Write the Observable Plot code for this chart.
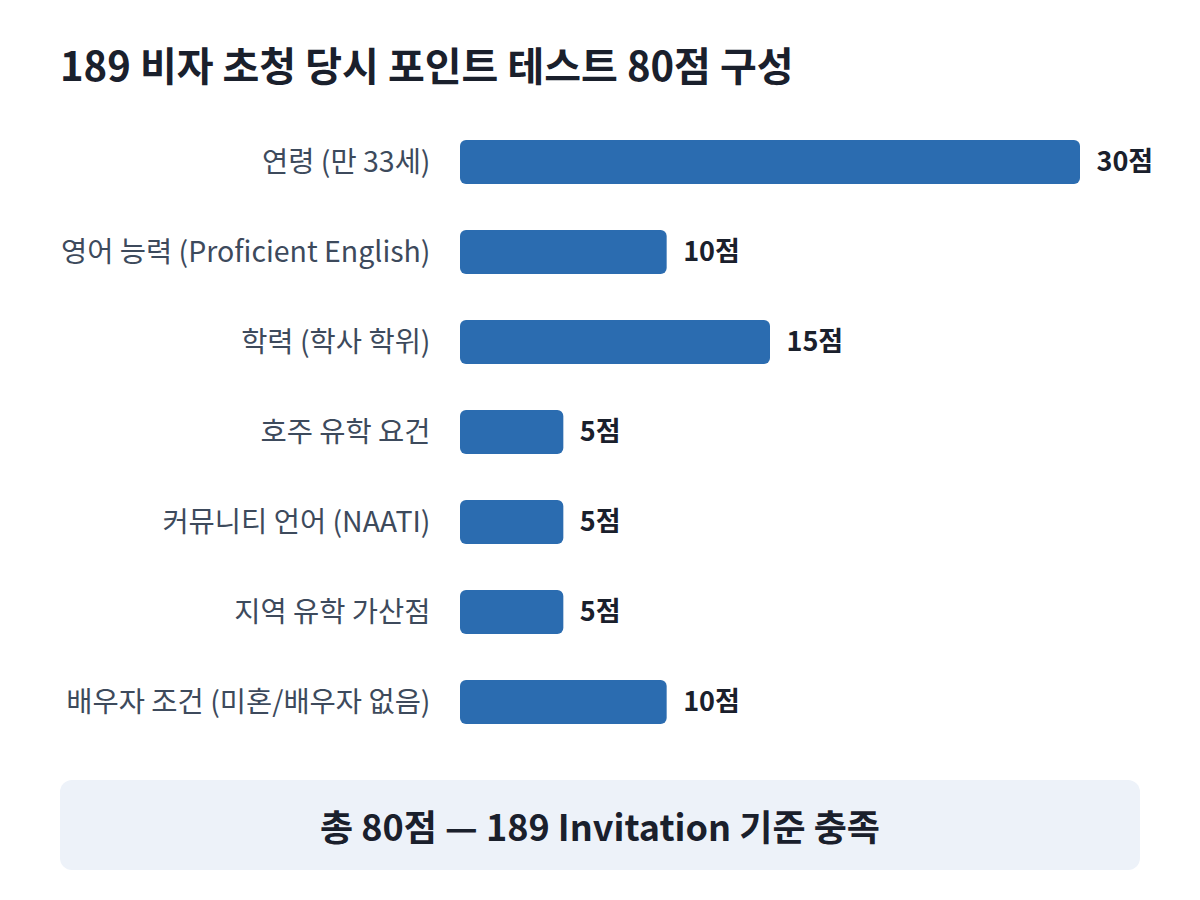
<!DOCTYPE html>
<html>
<head>
<meta charset="utf-8">
<script src="https://cdn.jsdelivr.net/npm/d3@7"></script>
<script src="https://cdn.jsdelivr.net/npm/@observablehq/plot@0.6"></script>
<style>
  html, body { margin: 0; padding: 0; background: #ffffff; }
  body { width: 1200px; height: 900px; position: relative; font-family: "Noto Sans CJK KR", "Noto Sans", sans-serif; }
  #title { position: absolute; left: 60px; top: 44px; font-size: 40px; font-weight: 700; color: #1a202c; line-height: 40px; white-space: nowrap; }
  #chart { position: absolute; left: 0; top: 117px; }
  #footer { position: absolute; left: 60px; top: 780px; width: 1080px; height: 90px; background: #edf2f9; border-radius: 12px; display: flex; align-items: center; justify-content: center; font-size: 36px; font-weight: 700; color: #1a202c; }
</style>
</head>
<body>
<div id="title">189 비자 초청 당시 포인트 테스트 80점 구성</div>
<div id="chart"></div>
<div id="footer">총 80점 — 189 Invitation 기준 충족</div>
<script>
const categories = [
  "연령 (만 33세)",
  "영어 능력 (Proficient English)",
  "학력 (학사 학위)",
  "호주 유학 요건",
  "커뮤니티 언어 (NAATI)",
  "지역 유학 가산점",
  "배우자 조건 (미혼/배우자 없음)"
];
const points = [30, 10, 15, 5, 5, 5, 10];
const valueLabels = ["30점", "10점", "15점", "5점", "5점", "5점", "10점"];

const data = categories.map((c, i) => ({category: c, value: points[i], label: valueLabels[i]}));

const chart = Plot.plot({
  width: 1200,
  height: 630,
  marginTop: 0,
  marginBottom: 0,
  marginLeft: 460,
  marginRight: 120,
  style: {fontFamily: "'Noto Sans CJK KR', 'Noto Sans', sans-serif", background: "transparent"},
  x: {domain: [0, 30], axis: null},
  y: {domain: categories, padding: 0},
  marks: [
    Plot.barX(data, {x: "value", y: "category", fill: "#2b6cb0", rx: 6, insetTop: 23, insetBottom: 23}),
    Plot.text(data, {x: "value", y: "category", text: "label", textAnchor: "start", dx: 16, fontSize: 27, fontWeight: 700, fill: "#1a202c"}),
    Plot.axisY({tickSize: 0, tickPadding: 30, fontSize: 28.5, color: "#3d4a5c", label: null})
  ]
});
document.getElementById("chart").appendChild(chart);
</script>
</body>
</html>
